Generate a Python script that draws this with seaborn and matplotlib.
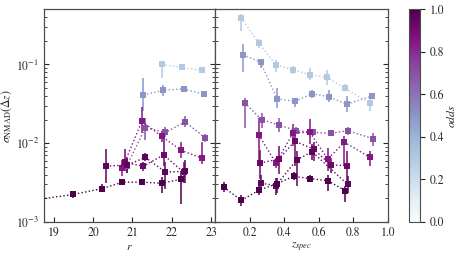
import numpy as np
import pandas as pd
import matplotlib
matplotlib.use('Agg')
import matplotlib.pyplot as plt
import seaborn as sns
from matplotlib.colors import Normalize

# odds level of each curve (colour)
odds_levels = [0.3, 0.5, 0.7, 0.85, 0.92, 0.96, 1.0]

# ---- sigma_NMAD vs r magnitude
r_vals = [
    [21.75, 22.25, 22.76],
    [21.28, 21.78, 22.30, 22.81],
    [20.85, 21.33, 21.84, 22.34, 22.85],
    [20.74, 21.24, 21.75, 22.24, 22.76],
    [20.80, 21.28, 21.79, 22.30],
    [20.33, 20.87, 21.33, 21.84, 22.34],
    [18.50, 19.50, 20.23, 20.74, 21.24, 21.75, 22.24],
]
r_sigma = [
    [0.100, 0.092, 0.084],
    [0.041, 0.047, 0.049, 0.042],
    [0.0051, 0.0158, 0.0137, 0.0187, 0.0117],
    [0.0048, 0.019, 0.0122, 0.0081, 0.0065],
    [0.0057, 0.0051, 0.0071, 0.0043],
    [0.0051, 0.0053, 0.0066, 0.0043, 0.0044],
    [0.0019, 0.00224, 0.00265, 0.0032, 0.0032, 0.0031, 0.0035],
]
r_lo = [
    [0.068, 0.084, 0.078],
    [0.026, 0.040, 0.046, 0.040],
    [0.0042, 0.011, 0.012, 0.016, 0.0105],
    [0.0038, 0.0133, 0.0105, 0.0065, 0.0055],
    [0.0045, 0.0045, 0.0052, 0.0031],
    [0.0031, 0.0042, 0.0060, 0.0026, 0.0031],
    [0.0017, 0.0020, 0.0024, 0.0030, 0.0030, 0.0023, 0.0017],
]
r_hi = [
    [0.110, 0.100, 0.090],
    [0.068, 0.055, 0.053, 0.045],
    [0.0065, 0.021, 0.016, 0.022, 0.013],
    [0.0062, 0.0287, 0.0145, 0.0105, 0.0103],
    [0.0085, 0.0058, 0.0118, 0.0058],
    [0.0084, 0.0065, 0.0075, 0.0057, 0.0062],
    [0.0021, 0.0025, 0.0030, 0.0035, 0.0035, 0.0037, 0.0045],
]

# ---- sigma_NMAD vs spectroscopic redshift
z_vals = [
    [0.152, 0.252, 0.352, 0.450, 0.550, 0.650, 0.750, 0.898],
    [0.163, 0.263, 0.359, 0.461, 0.561, 0.660, 0.760, 0.908],
    [0.171, 0.269, 0.369, 0.469, 0.569, 0.669, 0.769, 0.915],
    [0.252, 0.352, 0.452, 0.548, 0.652, 0.748, 0.896],
    [0.261, 0.369, 0.461, 0.571, 0.669, 0.760],
    [0.267, 0.352, 0.471, 0.561, 0.766],
    [0.050, 0.152, 0.252, 0.358, 0.454, 0.550, 0.652, 0.752],
]
z_sigma = [
    [0.392, 0.188, 0.099, 0.0857, 0.074, 0.0684, 0.050, 0.032],
    [0.133, 0.107, 0.0367, 0.0339, 0.0425, 0.0389, 0.0313, 0.0398],
    [0.0327, 0.020, 0.017, 0.0145, 0.0137, 0.0134, 0.0144, 0.0114],
    [0.0128, 0.0056, 0.0136, 0.0137, 0.0063, 0.0103, 0.0066],
    [0.0056, 0.0063, 0.0106, 0.0084, 0.0053, 0.0052],
    [0.0031, 0.0029, 0.0061, 0.0078, 0.0030],
    [0.00277, 0.00188, 0.00252, 0.00306, 0.0038, 0.00355, 0.00334, 0.0025],
]
z_lo = [
    [0.27, 0.16, 0.08, 0.075, 0.063, 0.055, 0.046, 0.026],
    [0.08, 0.09, 0.028, 0.029, 0.038, 0.033, 0.025, 0.037],
    [0.0155, 0.0155, 0.014, 0.013, 0.0125, 0.0122, 0.0128, 0.0092],
    [0.0055, 0.0048, 0.0091, 0.0099, 0.0044, 0.0051, 0.0052],
    [0.0035, 0.0041, 0.0052, 0.0059, 0.0042, 0.0031],
    [0.0024, 0.0022, 0.0029, 0.0062, 0.0023],
    [0.0024, 0.0016, 0.0022, 0.0023, 0.0034, 0.0032, 0.0025, 0.0018],
]
z_hi = [
    [0.44, 0.21, 0.115, 0.095, 0.09, 0.085, 0.057, 0.036],
    [0.183, 0.115, 0.05, 0.038, 0.048, 0.047, 0.04, 0.043],
    [0.038, 0.024, 0.021, 0.016, 0.015, 0.0148, 0.016, 0.0135],
    [0.021, 0.0065, 0.0178, 0.0206, 0.0086, 0.0122, 0.008],
    [0.0082, 0.0091, 0.0133, 0.0105, 0.0065, 0.0079],
    [0.0040, 0.0036, 0.0079, 0.0098, 0.0038],
    [0.0032, 0.0022, 0.0029, 0.0036, 0.0043, 0.0040, 0.0039, 0.0029],
]


def make_frame(xs, ss, los, his):
    parts = []
    for x, s, lo, hi, o in zip(xs, ss, los, his, odds_levels):
        parts.append(pd.DataFrame({'x': x, 'sigma': s, 'lo': lo, 'hi': hi, 'odds': o}))
    return pd.concat(parts, ignore_index=True)


df_r = make_frame(r_vals, r_sigma, r_lo, r_hi)
df_z = make_frame(z_vals, z_sigma, z_lo, z_hi)

sns.set_style('ticks')
plt.rcParams['font.family'] = ['serif']
plt.rcParams['font.serif'] = ['STIXGeneral', 'Liberation Serif', 'DejaVu Serif']
plt.rcParams['mathtext.fontset'] = 'stix'
plt.rcParams['font.size'] = 8.5

cmap = plt.get_cmap('BuPu')
norm = Normalize(0, 1)

fig = plt.figure(figsize=(4.57, 2.56), dpi=100)
ax1 = fig.add_axes([0.0963, 0.133, 0.3742, 0.830])
ax2 = fig.add_axes([0.4705, 0.133, 0.3786, 0.830], sharey=ax1)
cax = fig.add_axes([0.895, 0.133, 0.024, 0.830])

for ax, df in [(ax1, df_r), (ax2, df_z)]:
    ax.set_yscale('log')
    for o, g in df.groupby('odds'):
        ax.errorbar(g['x'], g['sigma'], yerr=[g['sigma'] - g['lo'], g['hi'] - g['sigma']],
                    fmt='none', ecolor=cmap(norm(o)), elinewidth=1.1, capsize=0, zorder=2)
    sns.lineplot(data=df, x='x', y='sigma', hue='odds', palette='BuPu', hue_norm=(0, 1),
                 estimator=None, ax=ax, legend=False, linestyle=':', linewidth=1.0,
                 marker='s', markersize=4.5, markeredgewidth=0, zorder=3)
    ax.tick_params(which='both', direction='in', right=True, top=False, labelsize=8.5)
    for sp in ax.spines.values():
        sp.set_color('0.3')
        sp.set_linewidth(0.9)

ax1.set_ylim(1e-3, 0.5)
ax1.set_xlim(18.75, 23.1)
ax1.set_xticks([19, 20, 21, 22, 23])
ax2.set_xlim(0.0, 1.0)
ax2.set_xticks([0.2, 0.4, 0.6, 0.8, 1.0])
ax2.xaxis.set_major_formatter(matplotlib.ticker.FormatStrFormatter('%.1f'))
ax2.tick_params(labelleft=False)

ax1.set_xlabel('$r$', labelpad=2)
ax2.set_xlabel('$z_{spec}$', labelpad=2)
ax1.set_ylabel(r'$\sigma_{\rm NMAD}(\Delta z)$', labelpad=1)
ax2.set_ylabel('')

sm = plt.cm.ScalarMappable(cmap=cmap, norm=norm)
cb = fig.colorbar(sm, cax=cax)
cb.set_ticks([0.0, 0.2, 0.4, 0.6, 0.8, 1.0])
cb.set_label('$odds$', labelpad=1)
cb.outline.set_edgecolor('0.3')
cax.tick_params(labelsize=8.5)

fig.savefig('out.png', dpi=100)
